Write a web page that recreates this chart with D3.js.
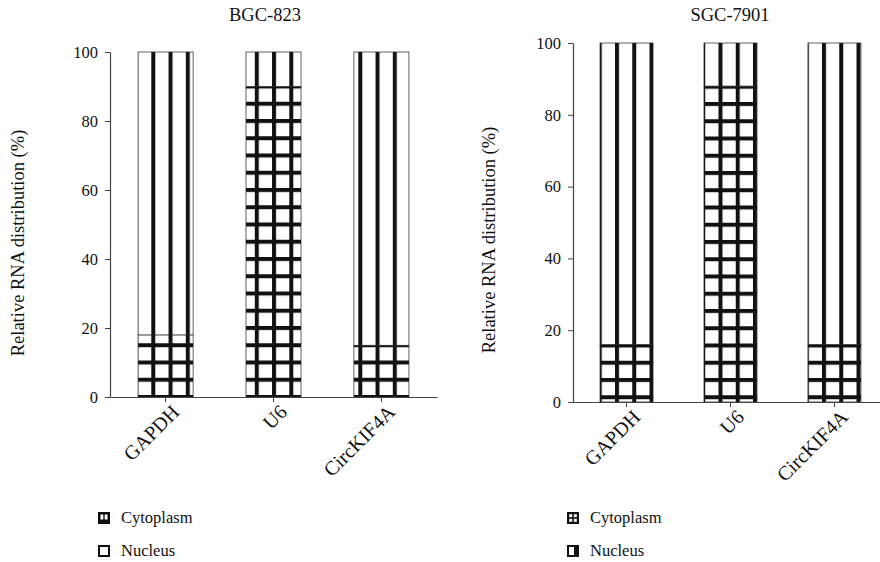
<!DOCTYPE html>
<html>
<head>
<meta charset="utf-8">
<script src="https://cdn.jsdelivr.net/npm/d3@7"></script>
<style>
  body { margin: 0; background: #fff; }
  svg { display: block; font-family: "Liberation Serif", "DejaVu Serif", serif; }
  .tick line, .domain { stroke: #444; }
  .tick text { fill: #111; font-size: 16.5px; }
</style>
</head>
<body>
<svg id="chart" width="880" height="562"></svg>
<script>
/* categories and values */
const categories = ['GAPDH', 'U6', 'CircKIF4A'];
const seriesNames = ['Nucleus', 'Cytoplasm'];
const bgcNucleus = [18, 90, 15];
const bgcCytoplasm = [82, 10, 85];
const sgcNucleus = [16, 88, 16];
const sgcCytoplasm = [84, 12, 84];
const yTicks = [0, 20, 40, 60, 80, 100];
const legendLabels = ['Cytoplasm', 'Nucleus'];

/* each panel: where it sits and how its hatching is anchored */
const panels = [
    {id: 'bgc', title: 'BGC-823', nucleus: bgcNucleus, cytoplasm: bgcCytoplasm,
     x0: 110, x1: 437, yTop: 52, yBottom: 397, titleX: 265, labelX: 24, labelY: 243,
     hatchX: 153.3, hatchY: 379.75, legendX: 98},
    {id: 'sgc', title: 'SGC-7901', nucleus: sgcNucleus, cytoplasm: sgcCytoplasm,
     x0: 573, x1: 888, yTop: 43, yBottom: 402, titleX: 730, labelX: 495, labelY: 240,
     hatchX: 617, hatchY: 380, legendX: 567}
];

const tile = 17.25;
const bar = 4;
const serif = '"Liberation Serif", "DejaVu Serif", serif';

let svg = d3.select('#chart');
let defs = svg.append('defs');

panels.forEach(function(p) {
    /* vertical stripes only (upper segment) */
    let stripe = defs.append('pattern')
        .attr('id', 'stripe-' + p.id)
        .attr('patternUnits', 'userSpaceOnUse')
        .attr('x', p.hatchX - bar / 2).attr('y', 0)
        .attr('width', tile).attr('height', tile);
    stripe.append('rect').attr('width', tile).attr('height', tile).attr('fill', '#fff');
    stripe.append('rect').attr('width', bar).attr('height', tile).attr('fill', '#111');

    /* grid (lower segment) */
    let grid = defs.append('pattern')
        .attr('id', 'grid-' + p.id)
        .attr('patternUnits', 'userSpaceOnUse')
        .attr('x', p.hatchX - bar / 2).attr('y', p.hatchY - bar / 2)
        .attr('width', tile).attr('height', tile);
    grid.append('rect').attr('width', tile).attr('height', tile).attr('fill', '#fff');
    grid.append('rect').attr('width', bar).attr('height', tile).attr('fill', '#111');
    grid.append('rect').attr('width', tile).attr('height', bar).attr('fill', '#111');

    let x = d3.scaleBand()
        .domain(categories)
        .range([p.x0, p.x1])
        .paddingInner(0.49)
        .paddingOuter(0.26);
    let y = d3.scaleLinear()
        .domain([0, 100])
        .range([p.yBottom, p.yTop]);

    let rows = categories.map((c, i) => ({cat: c, Nucleus: p.nucleus[i], Cytoplasm: p.cytoplasm[i]}));
    let stacked = d3.stack().keys(seriesNames)(rows);

    let g = svg.append('g').attr('class', 'panel-' + p.id);

    stacked.forEach(function(s) {
        let fill = s.key === 'Nucleus' ? 'url(#grid-' + p.id + ')' : 'url(#stripe-' + p.id + ')';
        g.selectAll('.bar-' + s.key)
            .data(s)
            .enter()
            .append('rect')
            .attr('class', 'bar-' + s.key)
            .attr('x', d => x(d.data.cat))
            .attr('y', d => y(d[1]))
            .attr('width', x.bandwidth())
            .attr('height', d => y(d[0]) - y(d[1]))
            .attr('fill', fill)
            .attr('stroke', '#222')
            .attr('stroke-width', 0.7);
    });

    /* y axis */
    g.append('g')
        .attr('transform', `translate(${p.x0},0)`)
        .call(d3.axisLeft(y).tickValues(yTicks).tickSize(5).tickPadding(7).tickSizeOuter(0))
        .attr('font-family', serif)
        .attr('font-size', 16.5)
        .call(a => a.select('.domain').attr('stroke-width', 1.2));

    /* x axis */
    let xa = g.append('g')
        .attr('transform', `translate(0,${p.yBottom})`)
        .call(d3.axisBottom(x).tickSize(5).tickSizeOuter(0))
        .attr('font-family', serif)
        .attr('font-size', 20);
    xa.select('.domain').attr('stroke-width', 1.2);
    xa.selectAll('.tick text')
        .attr('text-anchor', 'end')
        .attr('dx', '-0.05em')
        .attr('dy', '0.7em')
        .attr('transform', 'rotate(-45)')
        .style('font-size', '20px');

    /* title */
    g.append('text')
        .attr('x', p.titleX).attr('y', 21)
        .attr('text-anchor', 'middle')
        .style('font-size', '18.5px')
        .attr('fill', '#111')
        .text(p.title);

    /* y label */
    g.append('text')
        .attr('transform', `translate(${p.labelX},${p.labelY}) rotate(-90)`)
        .attr('text-anchor', 'middle')
        .style('font-size', '18.5px')
        .attr('fill', '#111')
        .text('Relative RNA distribution (%)');

    /* legend */
    let lg = g.append('g').attr('class', 'legend');
    legendLabels.forEach(function(name, i) {
        let ly = 512 + i * 33;
        let item = lg.append('g').attr('transform', `translate(${p.legendX},${ly})`);
        item.append('rect')
            .attr('x', 1).attr('y', 1).attr('width', 10).attr('height', 10)
            .attr('fill', '#fff').attr('stroke', '#111').attr('stroke-width', 2);
        if (p.id === 'bgc' && name === 'Cytoplasm') {
            item.append('rect').attr('x', 0).attr('y', 0).attr('width', 12).attr('height', 12).attr('fill', '#111');
            item.append('rect').attr('x', 2.5).attr('y', 2.5).attr('width', 2.8).attr('height', 5).attr('fill', '#fff');
            item.append('rect').attr('x', 6.7).attr('y', 2.5).attr('width', 2.8).attr('height', 5).attr('fill', '#fff');
        } else if (p.id === 'sgc' && name === 'Cytoplasm') {
            item.append('rect').attr('x', 0).attr('y', 0).attr('width', 12).attr('height', 12).attr('fill', '#111');
            [[2.2, 2.2], [6.8, 2.2], [2.2, 6.8], [6.8, 6.8]].forEach(function(c) {
                item.append('rect').attr('x', c[0]).attr('y', c[1]).attr('width', 3).attr('height', 3).attr('fill', '#fff');
            });
        } else if (p.id === 'sgc') {
            item.append('rect').attr('x', 7).attr('y', 0).attr('width', 5).attr('height', 12).attr('fill', '#111');
        }
        item.append('text')
            .attr('x', 23).attr('y', 11)
            .style('font-size', '16.5px')
            .attr('fill', '#111')
            .text(name);
    });
});
</script>
</body>
</html>
